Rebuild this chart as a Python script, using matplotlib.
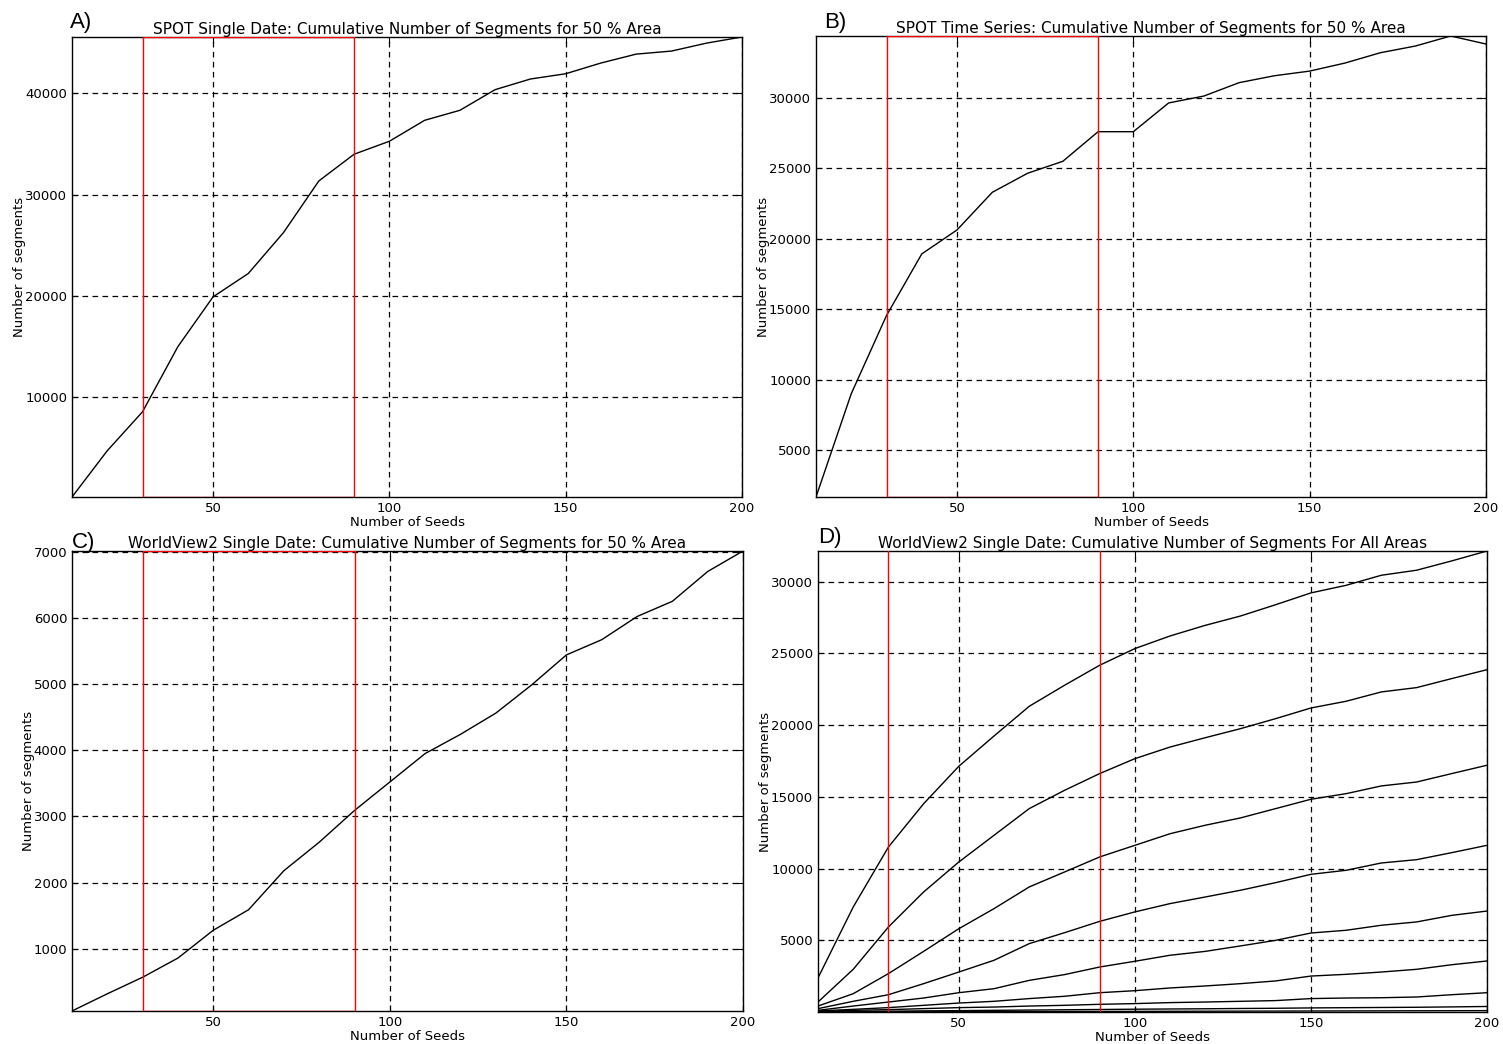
import matplotlib

matplotlib.use("Agg")
import matplotlib.pyplot as plt

# seeds on the x axis (shared by every panel)
seeds = [10, 20, 30, 40, 50, 60, 70, 80, 90, 100,
         110, 120, 130, 140, 150, 160, 170, 180, 190, 200]

spot_single = [130, 4700, 8550, 14970, 19900, 22210, 26260, 31350, 33990, 35270,
               37340, 38330, 40370, 41420, 41940, 43000, 43880, 44180, 44970, 45570]

spot_series = [1690, 9020, 14570, 18940, 20640, 23310, 24660, 25510, 27610, 27610,
               29650, 30140, 31090, 31580, 31910, 32480, 33210, 33690, 34400, 33830]

wv2_single = [60, 320, 570, 860, 1280, 1590, 2180, 2610, 3090, 3520,
              3950, 4240, 4560, 4980, 5440, 5670, 6020, 6250, 6700, 7010]

# panel D: one curve per area, largest first
wv2_areas = [
    [2380, 7320, 11500, 14520, 17130, 19240, 21310, 22770, 24170, 25330,
     26210, 26950, 27600, 28390, 29210, 29740, 30440, 30790, 31440, 32130],
    [700, 2980, 5930, 8370, 10460, 12320, 14180, 15450, 16620, 17660,
     18470, 19120, 19750, 20450, 21190, 21660, 22310, 22610, 23240, 23860],
    [420, 1280, 2680, 4230, 5810, 7210, 8720, 9760, 10810, 11620,
     12430, 13020, 13530, 14180, 14830, 15220, 15760, 16030, 16620, 17200],
    [240, 750, 1210, 1980, 2790, 3610, 4770, 5530, 6320, 6980,
     7560, 8020, 8490, 9020, 9600, 9880, 10390, 10620, 11110, 11620],
    [120, 420, 700, 980, 1350, 1630, 2210, 2610, 3140, 3540,
     3960, 4230, 4610, 5000, 5510, 5700, 6050, 6280, 6740, 7040],
    [75, 190, 310, 470, 630, 750, 940, 1100, 1350, 1490,
     1680, 1820, 1980, 2170, 2510, 2630, 2790, 2980, 3300, 3560],
    [40, 120, 170, 240, 310, 350, 420, 470, 540, 590,
     660, 700, 750, 800, 940, 980, 1000, 1050, 1210, 1350],
    [20, 45, 60, 85, 100, 120, 140, 160, 180, 200,
     215, 230, 250, 265, 290, 305, 320, 335, 360, 390],
    [5, 10, 15, 20, 25, 30, 35, 40, 45, 50,
     55, 60, 65, 70, 75, 80, 85, 90, 95, 100],
]

window = (30, 90)  # highlighted seed range
xticks = [50, 100, 150, 200]

W, H = 1503, 1044
fig = plt.figure(figsize=(W / 100, H / 100), dpi=100)
plt.rcParams["font.family"] = ["DejaVu Sans"]


def px_axes(left, top, right, bottom):
    return fig.add_axes([left / W, 1 - bottom / H, (right - left) / W, (bottom - top) / H])


def style(ax, title, yticks, ylabel_x):
    ax.set_xlim(10, 200)
    ax.set_xticks(xticks)
    ax.set_yticks(yticks)
    ax.grid(True, color="black", linestyle=(0, (4.5, 3.5)), linewidth=0.9)
    ax.tick_params(direction="in", length=4, labelsize=9.5, top=True, right=True)
    for s in ax.spines.values():
        s.set_linewidth(1.0)
    ax.set_title(title, fontsize=11, pad=2)
    ax.set_xlabel("Number of Seeds", fontsize=9.5, labelpad=1)
    ax.set_ylabel("Number of segments", fontsize=9.5)
    ax.yaxis.set_label_coords(ylabel_x, 0.5)


def single(ax, ys, title, yticks, ylabel_x):
    ax.plot(seeds, ys, color="black", linewidth=1.0)
    ax.set_ylim(min(ys), max(ys))
    ax.axvspan(window[0], window[1], fill=False, edgecolor="red", linewidth=1.0, zorder=3)
    style(ax, title, yticks, ylabel_x)


ax_a = px_axes(72, 37, 742, 497)
single(ax_a, spot_single, "SPOT Single Date: Cumulative Number of Segments for 50 % Area",
       [10000, 20000, 30000, 40000], -0.068)

ax_b = px_axes(816, 36, 1486, 497)
single(ax_b, spot_series, "SPOT Time Series: Cumulative Number of Segments for 50 % Area",
       [5000, 10000, 15000, 20000, 25000, 30000], -0.069)

ax_c = px_axes(72, 551, 743, 1011)
single(ax_c, wv2_single, "WorldView2 Single Date: Cumulative Number of Segments for 50 % Area",
       [1000, 2000, 3000, 4000, 5000, 6000, 7000], -0.055)

ax_d = px_axes(818, 551, 1487, 1012)
for ys in wv2_areas:
    ax_d.plot(seeds, ys, color="black", linewidth=1.0)
lo = min(min(ys) for ys in wv2_areas)
hi = max(max(ys) for ys in wv2_areas)
ax_d.set_ylim(lo, hi)
for x in window:
    ax_d.axvline(x, color="red", linewidth=1.0, zorder=3)
style(ax_d, "WorldView2 Single Date: Cumulative Number of Segments For All Areas",
      [5000, 10000, 15000, 20000, 25000, 30000], -0.069)

for lab, x, y in [("A)", 70, 28), ("B)", 824, 28), ("C)", 72, 548), ("D)", 818, 543)]:
    fig.text(x / W, 1 - y / H, lab, fontsize=16, family=["Liberation Sans"],
             ha="left", va="baseline")

fig.savefig("out.png", dpi=100)
